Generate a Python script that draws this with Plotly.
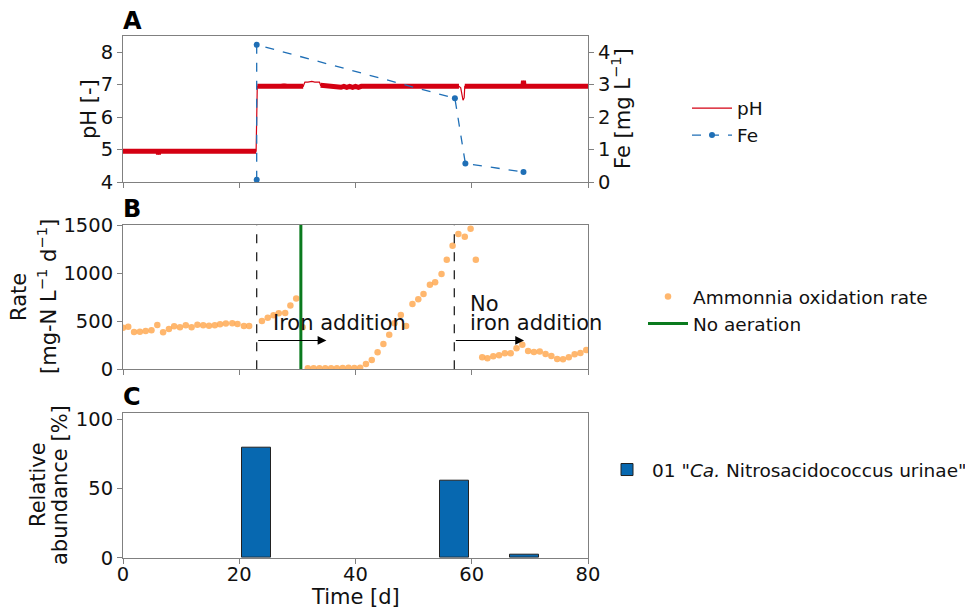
import plotly.graph_objects as go

# ---------------- data ----------------
# Panel A: pH
pH_days = [0, 3, 6, 6.1, 6.2, 10, 15, 20, 22.9, 23.1, 26, 27.6, 27.7, 27.8, 31.0,
           31.3, 31.8, 32.5, 33.0, 33.8, 34.0, 35, 36, 36.5, 37, 37.5, 38, 38.5,
           39, 39.5, 40, 40.5, 41, 45, 50, 55, 57.8, 58.1, 58.3, 58.5, 58.7, 58.8,
           62, 65, 68.8, 68.9, 69.0, 72, 76, 80]
pH_vals = [4.95, 4.95, 4.95, 4.85, 4.95, 4.95, 4.95, 4.95, 4.95, 6.95, 6.95, 6.95, 7.02, 6.95, 6.95,
           7.08, 7.08, 7.10, 7.08, 7.08, 6.98, 6.97, 6.95, 6.92, 6.95, 6.92, 6.95, 6.92,
           6.95, 6.92, 6.95, 6.92, 6.95, 6.95, 6.95, 6.95, 6.95, 6.90, 6.70, 6.52, 6.60, 6.95,
           6.95, 6.95, 6.95, 7.12, 6.95, 6.95, 6.95, 6.95]
# periods in which the pH signal was quiet (drawn as a thin line only)
pH_quiet_periods = [(22.95, 23.05), (31.1, 33.95), (57.95, 58.75)]

# Panel A: dissolved iron
fe_days = [23.0, 23.0, 57.1, 58.9, 68.9]
fe_vals = [0.07, 4.23, 2.58, 0.57, 0.31]

# Panel B: ammonia oxidation rate
rate_days = [0.0, 0.9, 1.9, 2.9, 3.9, 4.9, 5.9, 6.9, 7.9, 8.8, 9.8, 10.8, 11.8, 12.8,
             13.8, 14.8, 15.8, 16.7, 17.7, 18.8, 19.7, 20.8, 21.7,
             23.9, 24.9, 25.9, 26.8, 27.9, 28.8, 29.8, 30.9,
             31.8, 32.8, 33.8, 34.8, 35.8, 36.8, 37.8, 38.8, 39.8, 40.8,
             41.8, 42.8, 43.8, 44.8, 45.8, 46.7, 47.8, 48.7, 49.8, 50.8,
             51.7, 52.8, 53.7, 54.8, 55.7, 56.7, 57.7, 58.8, 59.8, 60.7,
             61.8, 62.7, 63.7, 64.7, 65.7, 66.7, 67.7, 68.7, 69.7, 70.7,
             71.7, 72.7, 73.7, 74.7, 75.7, 76.7, 77.7, 78.7, 79.7]
rate_vals = [433, 443, 388, 391, 398, 405, 461, 385, 419, 447, 437, 457, 437, 464,
             457, 454, 457, 468, 475, 478, 471, 450, 450,
             502, 537, 561, 582, 586, 662, 735, 437,
             10, 10, 10, 10, 10, 10, 14, 17, 14, 17,
             55, 97, 177, 263, 360, 478, 565, 450, 679, 728,
             783, 880, 904, 991, 1140, 1285, 1407, 1379, 1462, 1140,
             125, 114, 135, 146, 166, 166, 218, 256, 191, 180,
             184, 159, 139, 107, 104, 125, 156, 170, 201]

phase_change_days = [23.0, 57.0]      # start of iron addition / end of iron addition
no_aeration_day = 30.6
arrow_length_days = 12.0

# Panel C: relative abundance
abund_days = [23, 57, 69]
abund_vals = [80, 56, 2.5]
bar_width_days = 5

x_ticks = [0, 20, 40, 60, 80]
pH_ticks = [4, 5, 6, 7, 8]
fe_ticks = [0, 1, 2, 3, 4]
rate_ticks = [0, 500, 1000, 1500]
abund_ticks = [0, 50, 100]

# ---------------- styling ----------------
FONT = "DejaVu Sans"
FS_TICK = 19.5
FS_TITLE = 21
FS_LEG = 18.5
FS_TXT = 21
RED = "#d40012"
BLUE = "#1f6fb6"
BAR = "#0768b0"
ORANGE = "rgba(255,170,85,0.85)"
GREEN = "#0a7a1e"
GRAY = "#808080"
INK = "#111111"

# the page body has an 8px margin: size the figure so that it fills the window
OFF = 8
W, H = 973 - OFF, 609 - OFF
XL, XR = 123, 588
def px_x(p): return (p - OFF) / W
def px_y(p): return 1 - (p - OFF) / H

dom_x = [px_x(XL), px_x(XR)]
dom_A = [px_y(182), px_y(36)]
dom_B = [px_y(369.3), px_y(225)]
dom_C = [px_y(557.7), px_y(412.7)]

fig = go.Figure()

# pH: thin continuous line (legend entry) + thick noisy band
fig.add_trace(go.Scatter(x=pH_days, y=pH_vals, mode="lines", name="pH",
                         line=dict(color=RED, width=1.2), xaxis="x", yaxis="y",
                         legend="legend"))

def in_quiet(d):
    return any(a <= d <= b for a, b in pH_quiet_periods)

bx, by = [], []
prev = None
for d, v in zip(pH_days, pH_vals):
    if in_quiet(d):
        if by and by[-1] is not None:
            bx.append(None); by.append(None)
        prev = d
        continue
    if prev is not None and any(prev < b and d > a for a, b in pH_quiet_periods):
        if by and by[-1] is not None:
            bx.append(None); by.append(None)
    bx.append(d); by.append(v)
    prev = d
fig.add_trace(go.Scatter(x=bx, y=by, mode="lines", showlegend=False,
                         line=dict(color=RED, width=5), xaxis="x", yaxis="y",
                         connectgaps=False, hoverinfo="skip"))

fig.add_trace(go.Scatter(x=fe_days, y=fe_vals, mode="lines+markers", name="Fe",
                         line=dict(color=BLUE, width=1.3, dash="dash"),
                         marker=dict(color=BLUE, size=6), xaxis="x", yaxis="y2",
                         legend="legend"))

# Panel B
fig.add_trace(go.Scatter(x=rate_days, y=rate_vals, mode="markers",
                         name="Ammonnia oxidation rate",
                         marker=dict(color=ORANGE, size=6.5), xaxis="x2", yaxis="y3",
                         legend="legend2"))
fig.add_trace(go.Scatter(x=[no_aeration_day, no_aeration_day], y=[rate_ticks[0], rate_ticks[-1]],
                         mode="lines", name="No aeration",
                         line=dict(color=GREEN, width=3), xaxis="x2", yaxis="y3",
                         legend="legend2"))

# Panel C
fig.add_trace(go.Bar(x=abund_days, y=abund_vals, width=bar_width_days,
                     name='01 "<i>Ca.</i> Nitrosacidococcus urinae"',
                     marker=dict(color=BAR, line=dict(color="#222222", width=1)),
                     xaxis="x3", yaxis="y4", legend="legend3"))

shapes = []
for d in phase_change_days:
    shapes.append(dict(type="line", xref="x2", yref="y3", x0=d, x1=d,
                       y0=rate_ticks[0], y1=rate_ticks[-1],
                       line=dict(color="#222222", width=1.3, dash="dash")))

annotations = []
# arrows
for d in phase_change_days:
    annotations.append(dict(x=d + arrow_length_days, y=300, ax=d, ay=300,
                            xref="x2", yref="y3", axref="x2", ayref="y3",
                            showarrow=True, arrowhead=2, arrowsize=1.6,
                            arrowwidth=1.1, arrowcolor="black", text="",
                            standoff=0, startstandoff=0))
txt_font = dict(family=FONT, size=FS_TXT, color=INK)
annotations += [
    dict(x=25.4, y=482, xref="x2", yref="y3", text="Iron addition", showarrow=False,
         xanchor="left", yanchor="middle", font=txt_font),
    dict(x=59.4, y=679, xref="x2", yref="y3", text="No", showarrow=False,
         xanchor="left", yanchor="middle", font=txt_font),
    dict(x=59.4, y=482, xref="x2", yref="y3", text="iron addition", showarrow=False,
         xanchor="left", yanchor="middle", font=txt_font),
]
# panel letters
for lab, yc in [("A", 21.5), ("B", 209.5), ("C", 397)]:
    annotations.append(dict(x=px_x(121), y=px_y(yc), xref="paper", yref="paper",
                            text=f"<b>{lab}</b>", showarrow=False, xanchor="left",
                            yanchor="middle", font=dict(family=FONT, size=24, color="black")))
# axis titles
def ytitle(text, xc, yc):
    return dict(x=px_x(xc), y=px_y(yc), xref="paper", yref="paper", text=text,
                showarrow=False, textangle=-90, xanchor="center", yanchor="middle",
                font=dict(family=FONT, size=FS_TITLE, color=INK))
annotations += [
    ytitle("pH [-]", 89, 109),
    ytitle("Fe [mg L<sup>−1</sup>]", 621, 109),
    ytitle("Rate", 19, 297),
    ytitle("[mg-N L<sup>−1</sup> d<sup>−1</sup>]", 47, 297),
    ytitle("Relative", 38, 485),
    ytitle("abundance [%]", 60, 485),
    dict(x=px_x(355), y=px_y(597), xref="paper", yref="paper", text="Time [d]",
         showarrow=False, xanchor="center", yanchor="middle",
         font=dict(family=FONT, size=FS_TITLE, color=INK)),
]

axis_common = dict(showline=True, linecolor=GRAY, linewidth=1, mirror=True,
                   ticks="outside", ticklen=5, tickcolor=GRAY, showgrid=False,
                   zeroline=False, automargin=False,
                   tickfont=dict(family=FONT, size=FS_TICK, color=INK))

leg_common = dict(xanchor="left", yanchor="top", bgcolor="rgba(0,0,0,0)",
                  font=dict(family=FONT, size=FS_LEG, color=INK),
                  itemwidth=40, tracegroupgap=0)

fig.update_layout(
    width=W, height=H, margin=dict(l=0, r=0, t=0, b=0, autoexpand=False),
    paper_bgcolor="white", plot_bgcolor="white",
    font=dict(family=FONT, size=FS_TICK, color=INK),
    bargap=0,
    xaxis=dict(domain=dom_x, range=[0, 80], anchor="y", tickvals=x_ticks,
               showticklabels=False, **axis_common),
    yaxis=dict(domain=dom_A, range=[4, 8.5], anchor="x", tickvals=pH_ticks, **axis_common),
    yaxis2=dict(overlaying="y", side="right", range=[0, 4.5], anchor="x",
                tickvals=fe_ticks, **{k: v for k, v in axis_common.items() if k != "mirror"}),
    xaxis2=dict(domain=dom_x, range=[0, 80], anchor="y3", tickvals=x_ticks,
                showticklabels=False, **axis_common),
    yaxis3=dict(domain=dom_B, range=[0, 1500], anchor="x2", tickvals=rate_ticks, **axis_common),
    xaxis3=dict(domain=dom_x, range=[0, 80], anchor="y4", tickvals=x_ticks,
                showticklabels=True, ticklabelstandoff=-6, **axis_common),
    yaxis4=dict(domain=dom_C, range=[0, 105], anchor="x3", tickvals=abund_ticks, **axis_common),
    shapes=shapes,
    annotations=annotations,
    legend=dict(x=px_x(687), y=px_y(89.5), **leg_common),
    legend2=dict(x=px_x(643), y=px_y(278), **leg_common),
    legend3=dict(x=px_x(602), y=px_y(451), **leg_common),
)

fig.write_html("out.html")
